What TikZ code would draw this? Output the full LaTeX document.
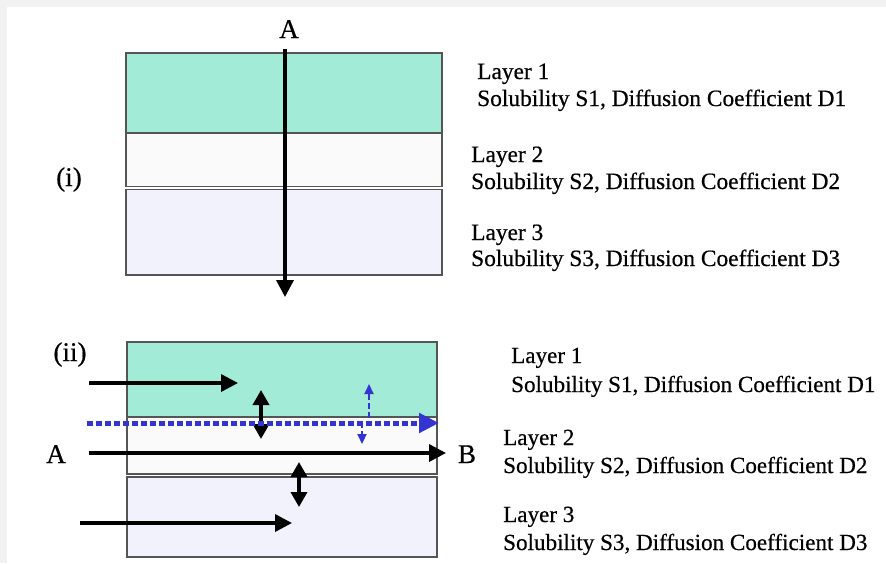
\documentclass[tikz,border=0pt]{standalone}
\usepackage{fontspec}
\setmainfont{Liberation Serif}
\newfontfamily\labelfont{Liberation Serif}[FakeBold=0.5]
\usetikzlibrary{arrows.meta}
\definecolor{mint}{HTML}{A2EBD7}
\definecolor{pale}{HTML}{FAFAFA}
\definecolor{lilac}{HTML}{F2F2FC}
\definecolor{edge}{HTML}{555555}
\definecolor{flowblue}{HTML}{3434D2}
\definecolor{frame}{HTML}{F2F2F2}
\tikzset{
  layer/.style={draw=edge, line width=1.2pt},
  lbl/.style={anchor=base west, inner sep=0pt, font=\labelfont\fontsize{23.4}{26}\selectfont},
  lblb/.style={lbl, font=\labelfont\fontsize{23.1}{26}\selectfont},
  tag/.style={anchor=base, inner sep=0pt, font=\labelfont\fontsize{27}{30}\selectfont},
  flow/.style={line width=3.5pt, -{Triangle[length=17pt,width=17pt]}},
  both/.style={line width=3.5pt, {Triangle[length=15pt,width=16pt]}-{Triangle[length=15pt,width=16pt]}},
  dotflow/.style={flowblue, line width=5pt, dash pattern=on 6pt off 3pt, -{Triangle[length=20pt,width=19pt]}},
  dashflow/.style={flowblue, line width=2.2pt, dash pattern=on 6pt off 3pt, -{Triangle[length=10pt,width=9pt]}},
}
\begin{document}
\begin{tikzpicture}[x=1pt,y=-1pt]
\useasboundingbox (0,0) rectangle (886,563);
\fill[white] (0,0) rectangle (886,563);
\fill[frame] (0,0) rectangle (886,7);
\fill[frame] (0,0) rectangle (7,563);

% ---------- panel (i): flow across the layers ----------
\draw[layer, fill=mint]  (126,53)  rectangle (442,133);
\draw[layer, fill=pale]  (126,133) rectangle (442,186.5);
\draw[layer, fill=lilac] (126,189.5) rectangle (442,275);
\draw[edge, line width=2pt] (126,133) -- (442,133);
\coordinate (ia) at (285,49);
\coordinate (ib) at (285,297);
\draw[flow] (ia) -- (ib);
\node[tag] (iA) at (289,38) {A};
\node[tag] (iTag) at (69,186) {(i)};

\node[lbl] (iL1) at (477,79)  {Layer 1};
\node[lbl] (iS1) at (477,106) {Solubility S1, Diffusion Coefficient D1};
\node[lbl] (iL2) at (471,162) {Layer 2};
\node[lbl] (iS2) at (471,189) {Solubility S2, Diffusion Coefficient D2};
\node[lbl] (iL3) at (471,240) {Layer 3};
\node[lbl] (iS3) at (471,266) {Solubility S3, Diffusion Coefficient D3};

% ---------- panel (ii): flow along the layers ----------
\draw[layer, fill=mint]  (127,342) rectangle (437,417);
\draw[layer, fill=pale]  (127,417) rectangle (437,474);
\draw[layer, fill=lilac] (127,477) rectangle (437,557);
\node[tag] (iiTag) at (70,361) {(ii)};

\coordinate (t1) at (89,383);  \coordinate (t2) at (238,383);
\draw[flow] (t1) -- (t2);
\coordinate (m1) at (89,453);  \coordinate (m2) at (446,453);
\draw[flow] (m1) -- (m2);
\coordinate (b1) at (80,523);  \coordinate (b2) at (292,523);
\draw[flow] (b1) -- (b2);

\coordinate (u1) at (261,390); \coordinate (u2) at (261,439);
\draw[both] (u1) -- (u2);
\coordinate (v1) at (299,462); \coordinate (v2) at (299,507);
\draw[both] (v1) -- (v2);

\coordinate (d1) at (87,423);  \coordinate (d2) at (439,423);
\draw[dotflow] (d1) -- (d2);
\coordinate (p0) at (369,418); \coordinate (p1) at (369,384);
\draw[dashflow] (p0) -- (p1);
\coordinate (q0) at (362,422); \coordinate (q1) at (362,444);
\draw[dashflow] (q0) -- (q1);

\node[tag] (iiA) at (56,463) {A};
\node[tag] (iiB) at (467,463) {B};

\node[lblb] (iiL1) at (511,363) {Layer 1};
\node[lblb] (iiS1) at (511,392) {Solubility S1, Diffusion Coefficient D1};
\node[lblb] (iiL2) at (503,445) {Layer 2};
\node[lblb] (iiS2) at (503,473) {Solubility S2, Diffusion Coefficient D2};
\node[lblb] (iiL3) at (503,522) {Layer 3};
\node[lblb] (iiS3) at (503,550) {Solubility S3, Diffusion Coefficient D3};
\end{tikzpicture}
\end{document}
